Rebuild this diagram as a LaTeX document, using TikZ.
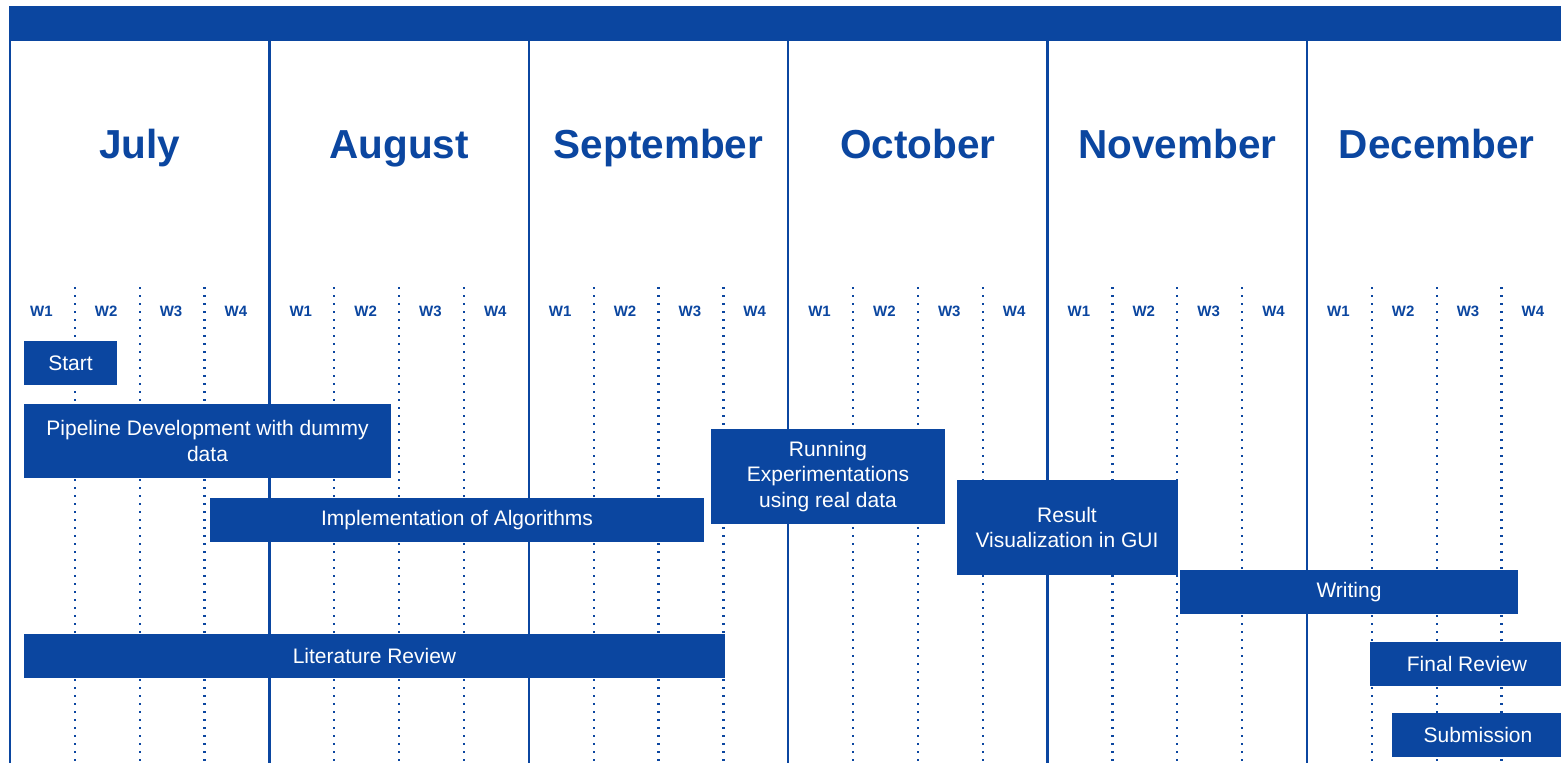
\documentclass[tikz,border=0pt]{standalone}
\usepackage{fontspec}
\setmainfont{Liberation Sans}
\definecolor{navy}{HTML}{0B46A0}
\begin{document}
\begin{tikzpicture}[x=1pt,y=-1pt,
  bar/.style={fill=navy, text=white, inner sep=0pt, align=center,
    font=\fontsize{21}{25.5}\selectfont},
  month/.style={text=navy, anchor=base, inner sep=0pt,
    font=\fontsize{40.5}{40.5}\selectfont\bfseries},
  week/.style={text=navy, anchor=base, inner sep=0pt,
    font=\fontsize{15}{15}\selectfont\bfseries},
  weekline/.style={navy, line width=2.3pt, dash pattern=on 2.3pt off 5.7pt},
  monthline/.style={navy, line width=2.4pt}]
\useasboundingbox (0,0) rectangle (1561,763);
\fill[white] (0,0) rectangle (1561,763);

% header band
\fill[navy] (9,6) rectangle (1561,40.7);

% month columns, week dividers and labels
\foreach \m [count=\i from 0] in {July,August,September,October,November,December} {
  \pgfmathsetmacro\xo{10+259.4*\i}
  \draw[monthline] (\xo,40) -- (\xo,763);
  \foreach \k in {1,2,3}
    \draw[weekline] (\xo+64.85*\k,287) -- (\xo+64.85*\k,763);
  \node[month] (month\i) at (\xo+129.7,158) {\m};
  \foreach \k in {1,...,4}
    \node[week] (wk\i-\k) at (\xo+64.85*\k-33.5,316) {W\k};
}

% task bars
\node[bar, minimum width=93pt,  minimum height=44pt] (start)       at (70.5,363)   {Start};
\node[bar, minimum width=367pt, minimum height=74pt] (pipeline)    at (207.5,441)  {Pipeline Development with dummy\\data};
\node[bar, minimum width=494pt, minimum height=44pt] (impl)        at (457,520)    {Implementation of Algorithms};
\node[bar, minimum width=234pt, minimum height=95pt] (running)     at (828,476.5)  {Running\\Experimentations\\using real data};
\node[bar, minimum width=221pt, minimum height=95pt] (result)      at (1067,527.5) {Result\\Visualization in GUI};
\node[bar, minimum width=338pt, minimum height=44pt] (writing)     at (1349,592)   {Writing};
\node[bar, minimum width=701pt, minimum height=44pt] (litreview)   at (374.5,656)  {Literature Review};
\node[bar, minimum width=194pt, minimum height=44pt] (finalreview) at (1467,664)   {Final Review};
\node[bar, minimum width=172pt, minimum height=44pt] (submission)  at (1478,735)   {Submission};
\end{tikzpicture}
\end{document}
